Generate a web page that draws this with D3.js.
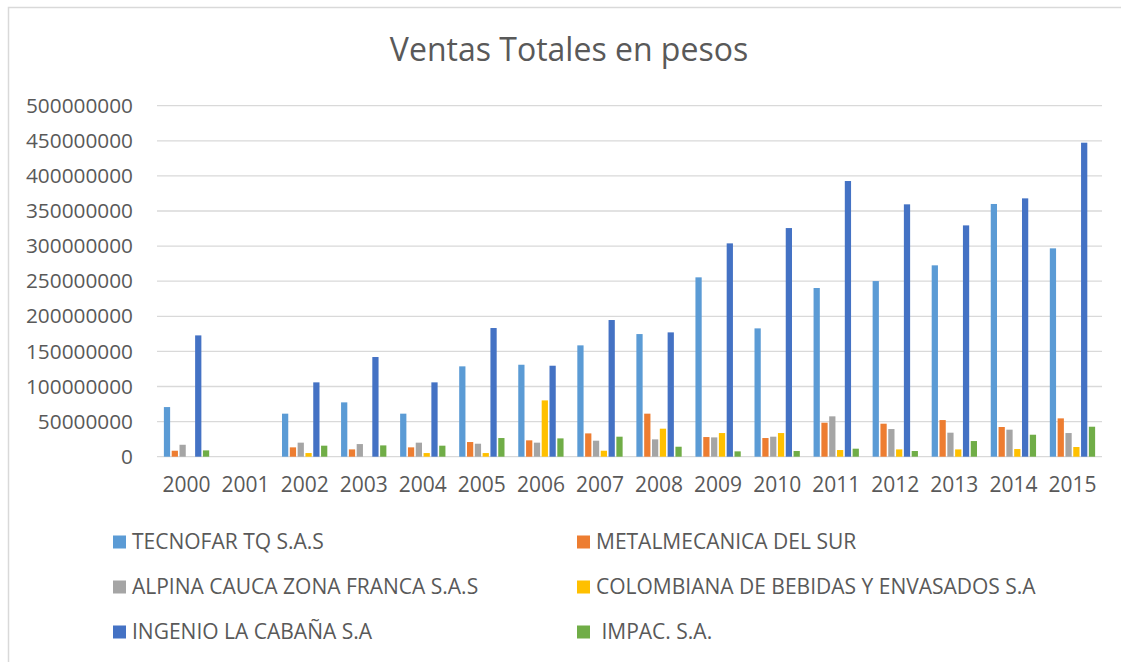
<!DOCTYPE html>
<html>
<head>
<meta charset="utf-8">
<script src="https://cdn.jsdelivr.net/npm/d3@7"></script>
<style>
  html, body { margin: 0; padding: 0; background: #fff; }
  svg { display: block; }
  text { font-family: "Open Sans", "Noto Sans", sans-serif; fill: #595959; }
</style>
</head>
<body>
<svg id="chart" width="1121" height="662"></svg>
<script>
const years = ["2000","2001","2002","2003","2004","2005","2006","2007","2008","2009","2010","2011","2012","2013","2014","2015"];
const seriesNames = ["TECNOFAR TQ S.A.S","METALMECANICA DEL SUR","ALPINA CAUCA ZONA FRANCA S.A.S","COLOMBIANA DE BEBIDAS Y ENVASADOS S.A","INGENIO LA CABAÑA S.A"," IMPAC. S.A."];
const seriesColors = ["#5B9BD5","#ED7D31","#A5A5A5","#FFC000","#4472C4","#70AD47"];
const tecnofar     = [70700000,0,61300000,77400000,61300000,128700000,131000000,158600000,174700000,255500000,182800000,240300000,250200000,272600000,360000000,296800000];
const metalmecanica= [8500000,0,13300000,10400000,13300000,20900000,23300000,33200000,61300000,28000000,26600000,48400000,47000000,52200000,42300000,54600000];
const alpina       = [17000000,0,20000000,18000000,20000000,18500000,20000000,22800000,24700000,27500000,28500000,57500000,39400000,34200000,38500000,33700000];
const colombiana   = [0,0,5200000,0,5200000,5200000,80200000,8500000,39900000,33700000,33700000,9500000,10400000,10400000,10900000,13800000];
const ingenio      = [172800000,0,105900000,142000000,105900000,183300000,129600000,194700000,177100000,303900000,325700000,392700000,359500000,329500000,368000000,447300000];
const impac        = [9000000,0,15700000,16100000,15700000,26600000,26100000,28500000,14200000,7600000,8100000,11400000,8100000,22300000,31300000,42700000];
const yTicks = [0,50000000,100000000,150000000,200000000,250000000,300000000,350000000,400000000,450000000,500000000];
const chartTitle = "Ventas Totales en pesos";

const seriesValues = [tecnofar, metalmecanica, alpina, colombiana, ingenio, impac];
const FONT = '"Open Sans", "Noto Sans", sans-serif';

const svg = d3.select("#chart");

// outer chart border (partially visible)
svg.append("path")
  .attr("d", "M8.5,662 L8.5,7.5 L1121,7.5")
  .attr("fill", "none").attr("stroke", "#d9d9d9").attr("stroke-width", 1.5);

const plot = {left: 157, right: 1102, top: 105.7, bottom: 456.7};

const x0 = d3.scaleBand().domain(years).range([plot.left, plot.right])
  .paddingInner(0.233).paddingOuter(0.1165);
const x1 = d3.scaleBand().domain(d3.range(seriesNames.length)).range([0, x0.bandwidth()])
  .paddingInner(0.2).paddingOuter(0);
const y = d3.scaleLinear().domain([0, 500000000]).range([plot.bottom, plot.top]);

// title
svg.append("text").attr("x", 569).attr("y", 61).attr("text-anchor", "middle")
  .style("font-size", "32px").text(chartTitle);

// gridlines
svg.append("g").selectAll("line").data(yTicks).join("line")
  .attr("x1", plot.left).attr("x2", plot.right)
  .attr("y1", d => y(d)).attr("y2", d => y(d))
  .attr("stroke", "#d9d9d9").attr("stroke-width", 1.3);

// y axis labels
const yAxis = d3.axisLeft(y).tickValues(yTicks).tickFormat(d3.format("d")).tickSize(0).tickPadding(0);
const gy = svg.append("g").attr("transform", `translate(${133},0)`).call(yAxis);
gy.select(".domain").remove();
gy.selectAll("text").style("font-size", "20.8px").attr("fill", "#595959").style("font-family", FONT);

// x axis labels
const xAxis = d3.axisBottom(x0).tickSize(0).tickPadding(0);
const gx = svg.append("g").attr("transform", `translate(0,${477})`).call(xAxis);
gx.select(".domain").remove();
gx.selectAll("text").style("font-size", "21px").attr("fill", "#595959").style("font-family", FONT);

// bars
const groups = svg.append("g").selectAll("g").data(years).join("g")
  .attr("transform", d => `translate(${x0(d)},0)`);
groups.selectAll("rect")
  .data((yr, i) => seriesValues.map((vals, s) => ({s, v: vals[i]})))
  .join("rect")
  .attr("x", d => x1(d.s))
  .attr("width", x1.bandwidth())
  .attr("y", d => y(d.v))
  .attr("height", d => y(0) - y(d.v))
  .attr("fill", d => seriesColors[d.s]);

// legend
const legendPos = [
  {x: 113, y: 542}, {x: 577, y: 542},
  {x: 113, y: 587}, {x: 577, y: 587},
  {x: 113, y: 632}, {x: 577, y: 632}
];
const lg = svg.append("g").selectAll("g").data(seriesNames).join("g")
  .attr("transform", (d, i) => `translate(${legendPos[i].x},${legendPos[i].y})`);
lg.append("rect").attr("x", 0).attr("y", -6.5).attr("width", 13).attr("height", 13)
  .attr("fill", (d, i) => seriesColors[i]);
lg.append("text").attr("x", 19).attr("y", 0).attr("dy", "0.35em")
  .style("font-size", "21px").style("white-space", "pre").text(d => d);
</script>
</body>
</html>
